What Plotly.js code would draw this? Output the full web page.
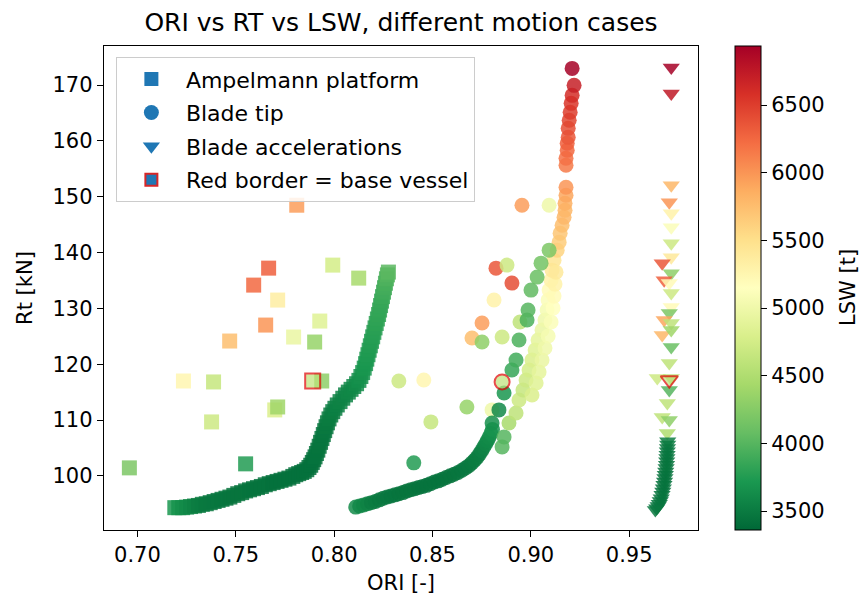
<!DOCTYPE html>
<html>
<head>
<meta charset="utf-8">
<script src="https://cdn.plot.ly/plotly-3.0.1.min.js"></script>
<style>html,body{margin:0;padding:0;background:#fff;}#chart{width:861px;height:598px;}</style>
</head>
<body>
<div id="chart"></div>
<script>
// ---------- DATA ----------
// Ampelmann platform (squares): scattered cases, then the dense sweep
const ampX = [0.6959,0.7550,0.7234,0.7387,0.7377,0.7469,0.7652,0.7591,0.7667,0.7713,0.7794,0.7927,0.7901,0.7810,0.7993,0.8125,0.7698,0.7713,0.7937,
  0.7190,0.7210,0.7230,0.7250,0.7270,0.7290,0.7310,0.7330,0.7350,0.7370,0.7390,0.7410,0.7430,0.7450,0.7470,0.7490,0.7510,0.7530,0.7550,0.7570,0.7590,0.7610,0.7630,0.7650,0.7670,0.7690,0.7710,0.7730,0.7750,0.7770,0.7790,0.7805,0.7820,0.7835,0.7848,
  0.7861,0.7872,0.7881,0.7889,0.7896,0.7903,0.7910,0.7917,0.7924,0.7931,0.7938,0.7945,0.7952,0.7959,0.7966,0.7974,0.7983,0.7993,0.8004,0.8016,0.8030,0.8044,0.8058,0.8072,0.8086,0.8100,0.8114,0.8126,0.8136,0.8145,0.8153,0.8160,0.8166,0.8172,0.8178,0.8184,0.8190,0.8196,0.8202,0.8208,0.8214,0.8220,0.8226,0.8231,0.8236,0.8241,0.8246,0.8251,0.8256,0.8261,0.8266,0.8271,0.8276];
const ampY = [101.43,102.15,116.99,116.82,109.66,124.15,127.01,134.17,137.21,131.49,124.87,127.73,123.97,148.48,137.75,135.42,111.81,112.34,116.99,
  94.3,94.3,94.3,94.4,94.5,94.6,94.7,94.9,95.0,95.2,95.4,95.6,95.8,96.0,96.2,96.5,96.8,97.0,97.3,97.5,97.7,97.9,98.1,98.4,98.6,98.8,99.0,99.2,99.4,99.6,99.9,100.2,100.4,100.6,100.8,
  101.1,101.5,101.9,102.4,102.9,103.4,104.0,104.6,105.3,106.0,106.7,107.4,108.1,108.8,109.5,110.2,110.9,111.5,112.1,112.7,113.3,113.9,114.5,115.0,115.5,116.0,116.5,117.1,117.8,118.5,119.3,120.1,120.9,121.7,122.5,123.3,124.1,124.9,125.7,126.5,127.3,128.1,128.9,129.7,130.5,131.3,132.1,132.9,133.7,134.5,135.3,136.0,136.5];
const ampLSW = [4200,3750,5250,4650,4700,5750,6000,6250,6300,5350,4950,4850,4350,5950,4750,4450,4800,4400,4300,
  3700,3680,3650,3620,3580,3550,3520,3500,3490,3480,3470,3470,3460,3460,3450,3450,3450,3450,3450,3440,3440,3440,3440,3440,3440,3430,3430,3430,3430,3430,3430,3430,3430,3430,3430,
  3430,3430,3430,3430,3430,3440,3440,3440,3450,3450,3460,3460,3470,3480,3490,3500,3510,3520,3530,3540,3550,3560,3570,3580,3590,3600,3620,3640,3660,3680,3700,3710,3720,3730,3740,3750,3760,3770,3780,3790,3800,3810,3820,3830,3840,3850,3870,3890,3910,3930,3960,3990,4020];

// Blade tip (circles): scattered cases, bottom sweep, merge, light branch, dark branch, red top
const tipX = [0.8955,0.9093,0.8823,0.8879,0.8904,0.8813,0.8752,0.8701,0.8752,0.8854,0.8945,0.8329,0.8456,0.8492,0.8675,0.8405,0.8803,
  0.8110,0.8130,0.8150,0.8170,0.8190,0.8210,0.8230,0.8250,0.8270,0.8290,0.8310,0.8330,0.8350,0.8370,0.8390,0.8410,0.8430,0.8450,0.8470,0.8490,0.8510,0.8530,0.8550,0.8570,0.8590,0.8610,0.8630,0.8650,0.8668,0.8685,0.8700,0.8714,0.8727,0.8739,0.8750,0.8760,0.8770,0.8779,0.8788,0.8797,0.8805,
  0.8864,0.8854,0.8889,0.8925,0.8940,
  0.8960,0.8976,0.8991,0.9006,0.9022,0.9037,0.9057,0.9072,0.9083,0.9088,0.9093,0.9103,0.9108,0.9118,0.9134,0.9144,0.9149,0.9159,0.9169,0.9174,0.9174,0.9179,0.9179,
  0.9006,0.9027,0.9042,0.9057,0.9072,0.9088,0.9103,0.9113,0.9118,0.9123,0.9128,
  0.8803,0.8838,0.8864,0.8904,0.8925,0.8940,0.8981,0.8986,0.9001,0.9032,0.9052,0.9093,
  0.9179,0.9179,0.9185,0.9185,0.9190,0.9190,0.9195,0.9200,0.9205,0.9210,0.9220,0.9210];
const tipY = [148.48,148.48,137.21,137.75,134.53,131.49,127.37,124.69,123.97,124.87,127.55,116.99,117.17,109.66,112.34,102.33,111.81,
  94.4,94.6,94.8,95.0,95.2,95.4,95.7,96.0,96.2,96.4,96.6,96.8,97.0,97.3,97.5,97.7,97.9,98.1,98.3,98.6,98.9,99.1,99.4,99.7,100.0,100.3,100.6,101.0,101.4,101.8,102.3,102.8,103.3,103.9,104.5,105.1,105.7,106.3,106.9,107.6,108.3,
  106.98,105.19,109.48,111.27,113.60,
  115.38,117.17,118.96,120.75,122.54,124.33,126.12,127.91,129.70,131.49,133.27,135.06,136.85,138.64,140.43,141.86,143.47,144.90,146.33,147.58,148.84,150.27,151.70,
  114.49,116.64,118.60,120.75,122.90,125.04,127.55,130.05,132.20,134.35,136.49,
  109.48,111.81,114.85,118.96,120.75,124.33,127.91,129.70,133.27,135.60,138.10,140.43,
  155.64,156.89,158.32,159.57,160.64,162.25,163.69,165.12,166.73,168.16,169.95,172.99];
const tipLSW = [5950,5000,6350,4700,6400,5300,5950,5750,4300,4700,4600,4700,5250,4650,4350,3750,5000,
  3620,3600,3580,3550,3520,3500,3490,3480,3470,3460,3460,3450,3450,3450,3450,3450,3440,3440,3440,3440,3440,3440,3440,3450,3450,3450,3460,3460,3470,3480,3490,3500,3510,3520,3540,3560,3580,3600,3620,3650,3680,
  4000,4000,4450,4600,4700,
  4650,4700,4750,4800,4850,4900,4950,5000,5050,5100,5200,5300,5400,5450,5600,5650,5700,5750,5800,5800,5850,5900,6000,
  4800,4850,4900,4950,5000,5050,5100,5150,5200,5300,5400,
  3650,3600,3700,3850,3900,3950,3950,4000,4050,4100,4150,4200,
  6150,6200,6250,6300,6350,6400,6450,6500,6550,6600,6700,6930];

// Blade accelerations (triangles)
const accX = [0.9714,0.9714,0.9714,0.9704,0.9714,0.9714,0.9714,0.9714,0.9668,0.9714,0.9678,0.9704,0.9714,0.9714,0.9704,0.9678,0.9714,0.9668,0.9714,0.9714,0.9704,0.9643,0.9714,0.9704,0.9694,0.9668,0.9704,0.9694,
  0.9696,0.9696,0.9695,0.9694,0.9693,0.9692,0.9691,0.9690,0.9688,0.9686,0.9684,0.9682,0.9680,0.9677,0.9674,0.9671,0.9667,0.9663,0.9658,0.9653,0.9647,0.9640,0.9633];
const accY = [173.17,168.51,152.06,149.02,147.05,144.54,141.68,139.18,138.10,136.31,135.06,134.53,132.74,130.23,129.16,127.91,127.37,125.22,126.12,123.08,120.21,117.53,117.53,115.38,113.06,110.55,110.02,107.69,
  106.2,105.6,105.0,104.4,103.8,103.2,102.6,102.0,101.4,100.8,100.2,99.6,99.0,98.4,97.8,97.2,96.6,96.0,95.5,95.0,94.6,94.2,93.9];
const accLSW = [6930,6750,5800,6000,5300,5100,4700,5400,6350,4300,6300,5200,4700,5200,4200,5900,4600,5800,4400,4100,4600,4700,4550,4000,4600,4600,4300,4500,
  3520,3500,3480,3470,3460,3460,3450,3450,3450,3450,3440,3440,3440,3440,3440,3440,3450,3450,3450,3460,3460,3470,3480];

// Base vessel (red border)
const baseX = [0.7891,0.8854,0.9704];
const baseY = [116.99,116.82,117.17];
const baseLSW = [4600,4600,4600];
const baseSymbols = ['square','circle','triangle-down'];

// Axes / ticks / labels
const xTickVals = [0.70,0.75,0.80,0.85,0.90,0.95];
const xTickText = ['0.70','0.75','0.80','0.85','0.90','0.95'];
const yTickVals = [100,110,120,130,140,150,160,170];
const cbTickVals = [3500,4000,4500,5000,5500,6000,6500];
const legendNames = ['Ampelmann platform','Blade tip','Blade accelerations','Red border = base vessel'];

// ---------- STYLE ----------
const FONT = 'DejaVu Sans, Verdana, sans-serif';
const cscale = [[0,'#006837'],[0.1,'#1a9850'],[0.2,'#66bd63'],[0.3,'#a6d96a'],[0.4,'#d9ef8b'],[0.5,'#ffffbf'],[0.6,'#fee08b'],[0.7,'#fdae61'],[0.8,'#f46d43'],[0.9,'#d73027'],[1,'#a50026']];
const CMIN = 3360, CMAX = 6936;
const blue = '#1f77b4';

function dataTrace(x, y, c, symbol, size, showscale) {
  const m = {symbol: symbol, size: size, color: c, colorscale: cscale, cmin: CMIN, cmax: CMAX, opacity: 0.85, line: {width: 0}};
  if (showscale) {
    m.showscale = true;
    m.colorbar = {
      x: 1.0623, xanchor: 'left', xpad: 0, ypad: 0, y: 0.5, yanchor: 'middle', len: 1, lenmode: 'fraction',
      thickness: 26, outlinewidth: 1, outlinecolor: '#000', ticks: 'outside', ticklen: 6, tickwidth: 1, tickcolor: '#000',
      tickvals: cbTickVals, tickfont: {family: FONT, size: 21, color: '#000'}
    };
  }
  return {type: 'scatter', mode: 'markers', x: x, y: y, marker: m, showlegend: false, hoverinfo: 'skip'};
}

const traces = [
  dataTrace(ampX, ampY, ampLSW, 'square', 15, true),
  dataTrace(tipX, tipY, tipLSW, 'circle', 15, false),
  dataTrace(accX, accY, accLSW, 'triangle-down', 15, false),
  {type: 'scatter', mode: 'markers', x: baseX, y: baseY, showlegend: false, hoverinfo: 'skip',
   marker: {symbol: baseSymbols, size: [15,15,15], color: baseLSW, colorscale: cscale, cmin: CMIN, cmax: CMAX, line: {color: '#e00000', width: 2}}},
  {type: 'scatter', mode: 'markers', x: [null], y: [null], name: legendNames[0], legendgroup: 'a', marker: {symbol: 'square', size: 14, color: blue}},
  {type: 'scatter', mode: 'markers', x: [null], y: [null], name: legendNames[1], legendgroup: 'b', marker: {symbol: 'circle', size: 15, color: blue}},
  {type: 'scatter', mode: 'markers', x: [null], y: [null], name: legendNames[2], legendgroup: 'c', marker: {symbol: 'triangle-down', size: 15, color: blue}},
  {type: 'scatter', mode: 'markers', x: [null], y: [null], name: legendNames[3], legendgroup: 'd', marker: {symbol: 'square', size: 12, color: blue, line: {color: '#d62728', width: 2}}}
];

const layout = {
  width: 861, height: 598,
  margin: {l: 104, r: 163, t: 46, b: 68, pad: 0},
  paper_bgcolor: '#fff', plot_bgcolor: '#fff',
  font: {family: FONT, size: 21, color: '#000'},
  title: {text: 'ORI vs RT vs LSW, different motion cases', x: 0.5, xref: 'paper', y: 1 - 22/598, yref: 'container', yanchor: 'middle',
          font: {family: FONT, size: 25, color: '#000'}},
  xaxis: {range: [0.683, 0.985], tickvals: xTickVals, ticktext: xTickText, ticks: 'outside', ticklen: 6, tickwidth: 1, tickcolor: '#000',
          showline: true, mirror: true, linecolor: '#000', linewidth: 1.2, showgrid: false, zeroline: false,
          tickfont: {family: FONT, size: 21, color: '#000'},
          title: {text: 'ORI [-]', standoff: 8, font: {family: FONT, size: 21, color: '#000'}}},
  yaxis: {range: [90.3, 177], tickvals: yTickVals, ticks: 'outside', ticklen: 6, tickwidth: 1, tickcolor: '#000',
          showline: true, mirror: true, linecolor: '#000', linewidth: 1.2, showgrid: false, zeroline: false,
          tickfont: {family: FONT, size: 21, color: '#000'},
          title: {text: 'Rt [kN]', standoff: 14, font: {family: FONT, size: 21, color: '#000'}}},
  legend: {x: 0.02, y: 0.977, xanchor: 'left', yanchor: 'top', bgcolor: 'rgba(255,255,255,0.85)', bordercolor: '#cccccc', borderwidth: 1,
           font: {family: FONT, size: 22, color: '#000'}, traceorder: 'grouped', tracegroupgap: 2, itemwidth: 59},
  annotations: [{text: 'LSW [t]', xref: 'paper', yref: 'paper', x: (848 - 104) / 594, y: 0.5, xanchor: 'center', yanchor: 'middle',
                 textangle: -90, showarrow: false, font: {family: FONT, size: 21, color: '#000'}}],
  showlegend: true
};

Plotly.newPlot('chart', traces, layout, {staticPlot: true, displayModeBar: false});
</script>
</body>
</html>
